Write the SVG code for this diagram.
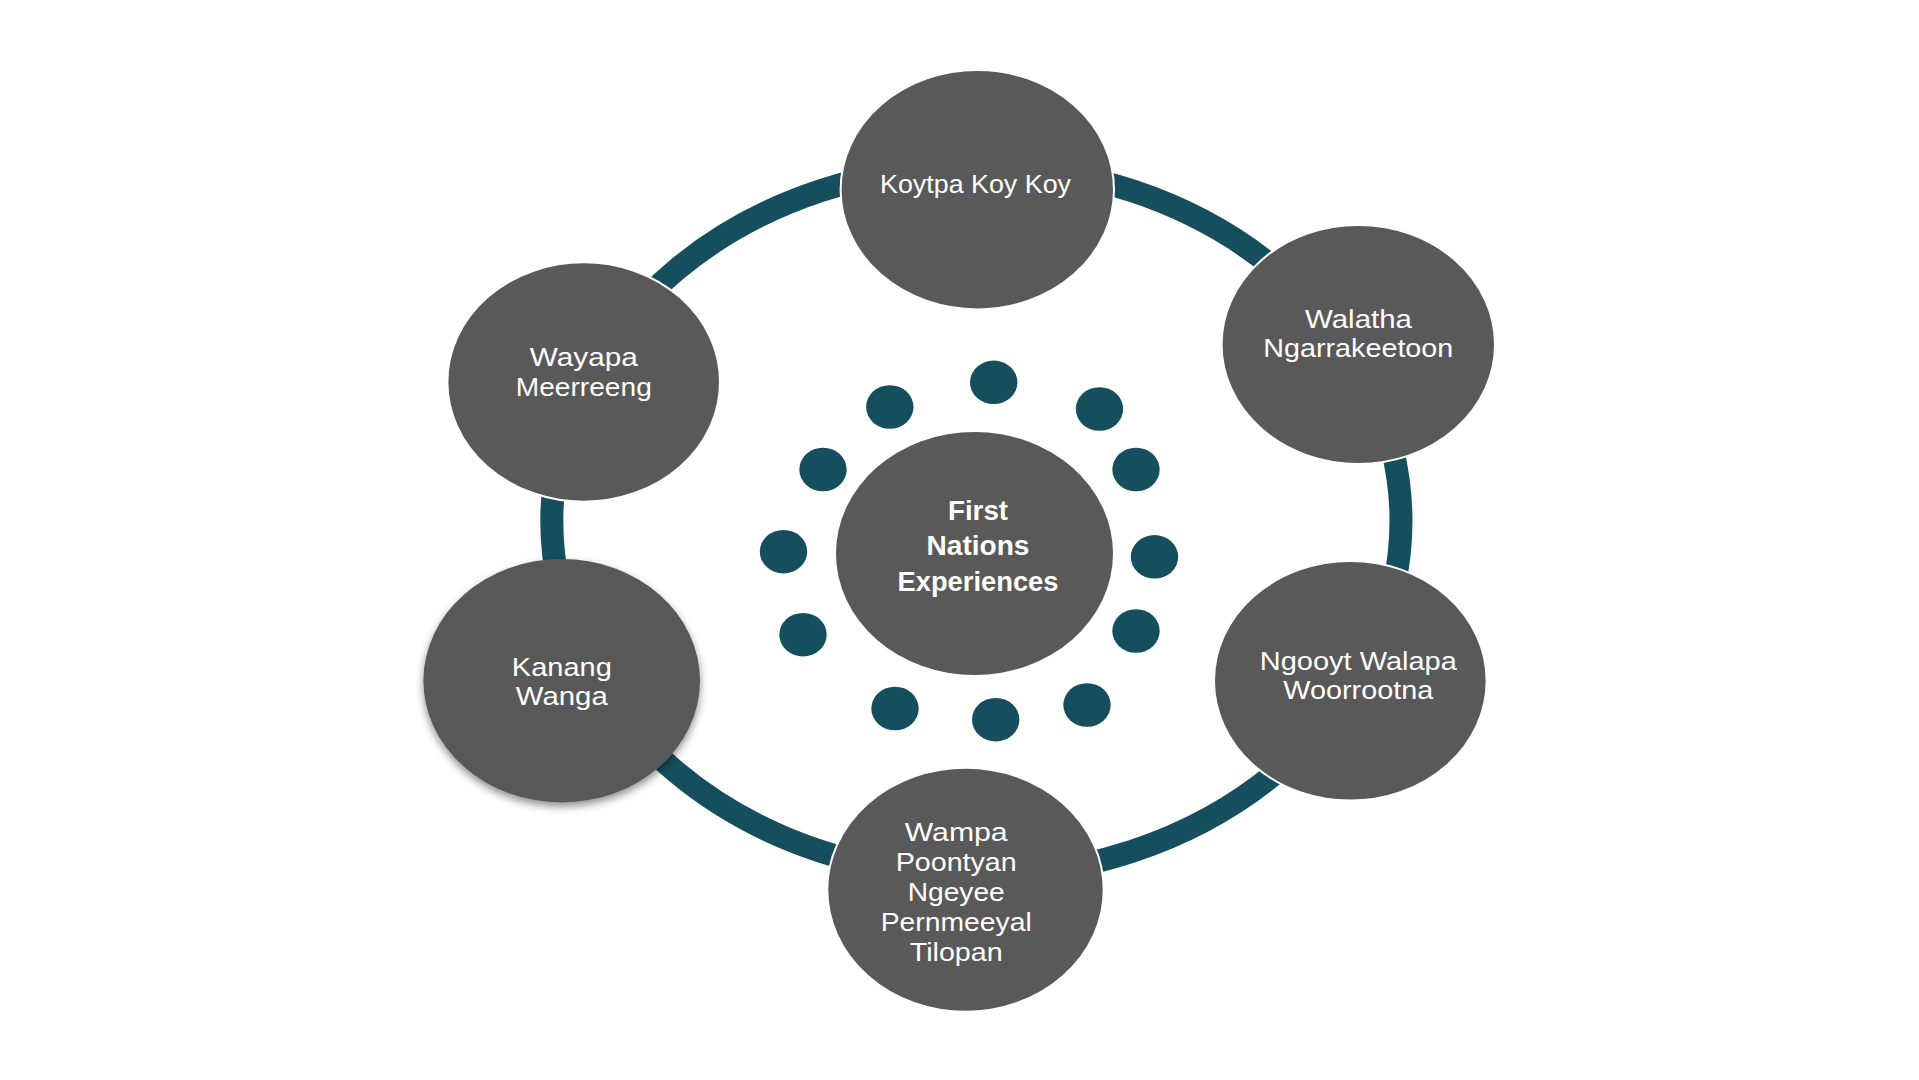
<svg xmlns="http://www.w3.org/2000/svg" width="1919" height="1080" viewBox="0 0 1919 1080">
<defs>
<filter id="shadow" x="-20%" y="-20%" width="140%" height="150%">
<feGaussianBlur in="SourceAlpha" stdDeviation="4"/>
<feOffset dx="0" dy="4" result="b"/>
<feComponentTransfer><feFuncA type="linear" slope="0.45"/></feComponentTransfer>
<feMerge><feMergeNode/><feMergeNode in="SourceGraphic"/></feMerge>
</filter>
</defs>
<style>
.node{fill:#595959;stroke:#ffffff;stroke-width:2}
.dot{fill:#154f5d}
.ring{fill:none;stroke:#154f5d;stroke-width:23}
.lbl{font-family:"Liberation Sans",Arial,sans-serif;font-size:25px;fill:#ffffff;text-anchor:middle}
.ctr{font-family:"Liberation Sans",Arial,sans-serif;font-size:27px;font-weight:700;fill:#ffffff;text-anchor:middle}
</style>
<rect width="1919" height="1080" fill="#ffffff"/>
<g id="connectors">
<ellipse class="ring" cx="976.4" cy="521" rx="424.6" ry="355"/>
</g>
<g id="dots">
<ellipse class="dot" cx="993.7" cy="382.3" rx="23.7" ry="21.8"/>
<ellipse class="dot" cx="889.8" cy="407" rx="23.7" ry="21.8"/>
<ellipse class="dot" cx="1099.5" cy="409" rx="23.7" ry="21.8"/>
<ellipse class="dot" cx="823" cy="469.5" rx="23.7" ry="21.8"/>
<ellipse class="dot" cx="1136" cy="469.5" rx="23.7" ry="21.8"/>
<ellipse class="dot" cx="783.5" cy="551.7" rx="23.7" ry="21.8"/>
<ellipse class="dot" cx="1154.5" cy="556.8" rx="23.7" ry="21.8"/>
<ellipse class="dot" cx="803" cy="634.7" rx="23.7" ry="21.8"/>
<ellipse class="dot" cx="1136" cy="631" rx="23.7" ry="21.8"/>
<ellipse class="dot" cx="895" cy="708.5" rx="23.7" ry="21.8"/>
<ellipse class="dot" cx="995.7" cy="719.7" rx="23.7" ry="21.8"/>
<ellipse class="dot" cx="1087" cy="705" rx="23.7" ry="21.8"/>
</g>
<g id="center">
<ellipse class="node" cx="974.5" cy="553.5" rx="138.5" ry="121.5" style="stroke:none"/>
<text class="ctr" x="978" y="520" textLength="60" lengthAdjust="spacingAndGlyphs">First</text>
<text class="ctr" x="978" y="555" textLength="103" lengthAdjust="spacingAndGlyphs">Nations</text>
<text class="ctr" x="978" y="591" textLength="161" lengthAdjust="spacingAndGlyphs">Experiences</text>
</g>
<g id="koytpa">
<ellipse class="node" cx="977.3" cy="189.7" rx="136.7" ry="119.7"/>
<text class="lbl" x="975.5" y="193.3" textLength="191" lengthAdjust="spacingAndGlyphs">Koytpa Koy Koy</text>
</g>
<g id="walatha">
<ellipse class="node" cx="1358.3" cy="344.5" rx="136.7" ry="119.5"/>
<text class="lbl" x="1358.5" y="328.3" textLength="107" lengthAdjust="spacingAndGlyphs">Walatha</text>
<text class="lbl" x="1358.3" y="357.3" textLength="190" lengthAdjust="spacingAndGlyphs">Ngarrakeetoon</text>
</g>
<g id="ngooyt">
<ellipse class="node" cx="1350.3" cy="680.8" rx="136.3" ry="119.8"/>
<text class="lbl" x="1358.3" y="670" textLength="197" lengthAdjust="spacingAndGlyphs">Ngooyt Walapa</text>
<text class="lbl" x="1358.3" y="699.3" textLength="150" lengthAdjust="spacingAndGlyphs">Woorrootna</text>
</g>
<g id="wampa">
<ellipse class="node" cx="965.5" cy="889.7" rx="138.2" ry="122"/>
<text class="lbl" x="956.2" y="840.7" textLength="103" lengthAdjust="spacingAndGlyphs">Wampa</text>
<text class="lbl" x="956.2" y="870.7" textLength="121" lengthAdjust="spacingAndGlyphs">Poontyan</text>
<text class="lbl" x="956.2" y="900.7" textLength="97" lengthAdjust="spacingAndGlyphs">Ngeyee</text>
<text class="lbl" x="956.2" y="930.7" textLength="151" lengthAdjust="spacingAndGlyphs">Pernmeeyal</text>
<text class="lbl" x="956.2" y="960.7" textLength="93" lengthAdjust="spacingAndGlyphs">Tilopan</text>
</g>
<g id="kanang">
<ellipse class="node" cx="561.7" cy="680.7" rx="138.3" ry="121.7" filter="url(#shadow)" style="stroke:none"/>
<text class="lbl" x="561.8" y="675.7" textLength="100" lengthAdjust="spacingAndGlyphs">Kanang</text>
<text class="lbl" x="561.8" y="705" textLength="92" lengthAdjust="spacingAndGlyphs">Wanga</text>
</g>
<g id="wayapa">
<ellipse class="node" cx="583.7" cy="382" rx="136.3" ry="119.7"/>
<text class="lbl" x="583.8" y="366" textLength="108" lengthAdjust="spacingAndGlyphs">Wayapa</text>
<text class="lbl" x="583.8" y="396" textLength="136" lengthAdjust="spacingAndGlyphs">Meerreeng</text>
</g>
</svg>
